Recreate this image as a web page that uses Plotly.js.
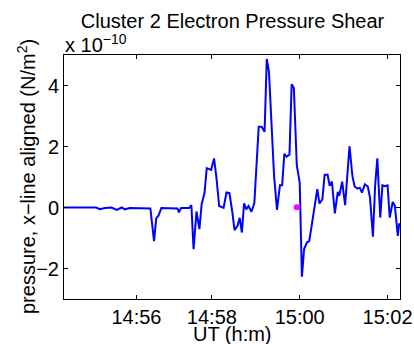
<!DOCTYPE html>
<html>
<head>
<meta charset="utf-8">
<script src="https://cdn.plot.ly/plotly-3.0.1.min.js"></script>
<style>html,body{margin:0;padding:0;background:#fff}#chart{width:414px;height:344px}</style>
</head>
<body>
<div id="chart"></div>
<script>
// UT times (h:m:s) and pressure shear values (units of 1e-10 N/m^2)
const times = ["14:54:38","14:55:22","14:55:27","14:55:34","14:55:43","14:55:50","14:55:57","14:56:01","14:56:08","14:56:20",
"14:56:36","14:56:41","14:56:44","14:56:47","14:56:51","14:57:13","14:57:15","14:57:18","14:57:29","14:57:32",
"14:57:35","14:57:39","14:57:43","14:57:46","14:57:50","14:57:53","14:57:56","14:57:59","14:58:03","14:58:06",
"14:58:10","14:58:16","14:58:20","14:58:24","14:58:28","14:58:31","14:58:35","14:58:38","14:58:41","14:58:44",
"14:58:47","14:58:50","14:58:54","14:58:58","14:59:04","14:59:08","14:59:12","14:59:15","14:59:18","14:59:25",
"14:59:29","14:59:33","14:59:36","14:59:39","14:59:42","14:59:46","14:59:49","14:59:52","14:59:56","15:00:00",
"15:00:03","15:00:06","15:00:10","15:00:13","15:00:17","15:00:21","15:00:24","15:00:27","15:00:31","15:00:34",
"15:00:38","15:00:41","15:00:44","15:00:48","15:00:52","15:00:54","15:00:58","15:01:02","15:01:05","15:01:08",
"15:01:12","15:01:15","15:01:19","15:01:22","15:01:25","15:01:29","15:01:33","15:01:36","15:01:40","15:01:43",
"15:01:46","15:01:50","15:01:53","15:01:56","15:02:00","15:02:03","15:02:07","15:02:10","15:02:14","15:02:16"];
const pressure = [0,0,-0.056,-0.02,0,-0.08,0,-0.06,-0.02,-0.03,
-0.03,-1.10,-0.36,-0.27,-0.02,-0.03,-0.16,-0.02,-0.02,0.08,
-1.37,-0.13,-0.71,0.10,0.49,1.29,1.25,1.23,1.61,1.03,
0.05,-0.01,0.49,0.47,-0.16,-0.74,-0.60,-0.34,-0.82,0.14,
-0.06,0.05,-0.14,0.14,2.65,2.65,2.48,4.87,4.45,1.03,
-0.08,0.73,0.73,1.76,1.67,1.73,4.04,3.92,1.39,0.82,
-2.27,-1.36,-1.14,-1.10,-0.49,0.16,0.60,0.13,0.27,1.07,
1.08,0.71,0.85,-0.19,0.51,0.38,0.85,0.08,1.03,2.01,
1.03,0.69,0.62,0.65,0.49,0.76,0.69,0.33,-0.96,0.71,
1.61,-0.33,0.73,0.70,0.73,-0.33,0.18,0.05,-0.93,-0.51];
// highlighted event point
const eventTime = ["14:59:56"];
const eventValue = [0.01];
// axis ticks
const xTickTimes = ["14:56:17","14:58:00","15:00:00","15:02:00"];
const xTickLabels = ["14:56","14:58","15:00","15:02"];
const xRangeTimes = ["14:54:38","15:02:17"];
const yTicks = [-2,0,2,4];
const yRange = [-3,5];

const DAY = "2001-01-01 ";
const d = t => DAY + t;
const FONT = "Liberation Sans, Arial, Helvetica, sans-serif";

const traces = [
  {x: times.map(d), y: pressure, type: "scatter", mode: "lines",
   line: {color: "#0000ff", width: 2}, hoverinfo: "skip"},
  {x: eventTime.map(d), y: eventValue, type: "scatter", mode: "markers",
   marker: {color: "#ff00ff", size: 6}, hoverinfo: "skip"}
];

const layout = {
  width: 414, height: 344,
  margin: {l: 64, r: 14, t: 55, b: 45},
  paper_bgcolor: "#fff", plot_bgcolor: "#fff",
  showlegend: false,
  font: {family: FONT, size: 20, color: "#000"},
  title: {text: "Cluster 2 Electron Pressure Shear", font: {family: FONT, size: 20, color: "#000"},
          x: 0.5617, xanchor: "center", y: 0.94, yanchor: "middle"},
  xaxis: {
    type: "date", range: xRangeTimes.map(d),
    tickvals: xTickTimes.map(d), ticktext: xTickLabels,
    ticks: "inside", ticklen: 4, tickcolor: "#000", tickwidth: 1,
    showline: true, linecolor: "#000", linewidth: 1, mirror: "ticks",
    showgrid: false, zeroline: false,
    tickfont: {family: FONT, size: 20}
  },
  yaxis: {
    range: yRange, tickvals: yTicks,
    ticks: "inside", ticklen: 4, tickcolor: "#000", tickwidth: 1,
    showline: true, linecolor: "#000", linewidth: 1, mirror: "ticks",
    showgrid: false, zeroline: false,
    tickfont: {family: FONT, size: 20}
  },
  annotations: [
    {text: "x 10<sup>\u221210</sup>", xref: "paper", yref: "paper", x: 0, y: 1, xanchor: "left", yanchor: "bottom",
     showarrow: false, font: {family: FONT, size: 20}, xshift: -1, yshift: -3},
    {text: "UT (h:m)", xref: "paper", yref: "paper", x: 0.5, y: 0, xanchor: "center", yanchor: "middle",
     showarrow: false, font: {family: FONT, size: 20}, yshift: -35},
    {text: "pressure, x\u2212line aligned (N/m<sup>2</sup>)", xref: "paper", yref: "paper", x: 0, y: 0.5,
     xanchor: "center", yanchor: "middle", textangle: -90,
     showarrow: false, font: {family: FONT, size: 20}, xshift: -38}
  ]
};

Plotly.newPlot("chart", traces, layout, {displayModeBar: false, staticPlot: true});
</script>
</body>
</html>
